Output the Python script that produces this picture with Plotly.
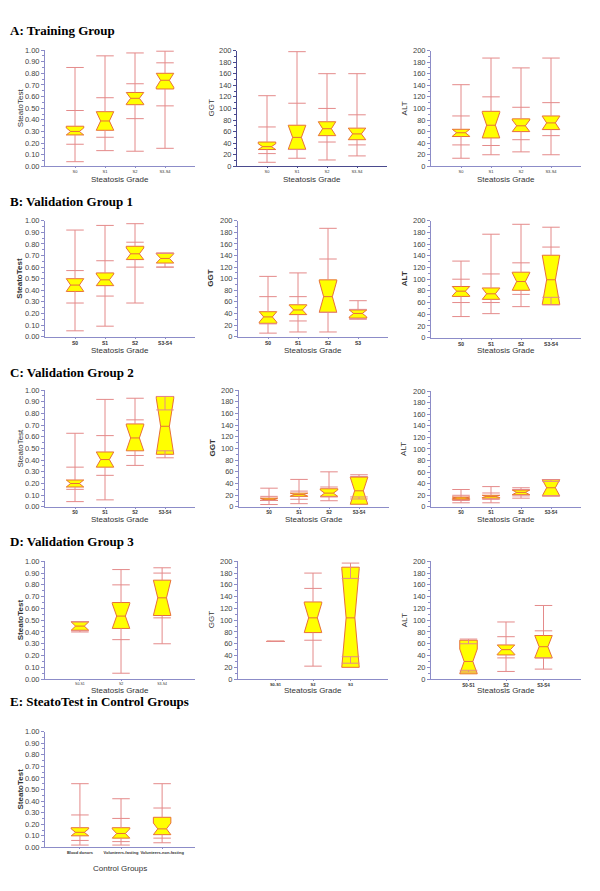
import plotly.graph_objects as go

# ---------------- categories ----------------
CAT_GRADES = ["S0", "S1", "S2", "S3-S4"]
CAT_B2 = ["S0", "S1", "S2", "S3"]
CAT_D13 = ["S0-S1", "S2", "S3-S4"]
CAT_D2 = ["S0-S1", "S2", "S3"]
CAT_E = ["Blood donors", "Volunteers-fasting", "Volunteers-non-fasting"]

# ---------------- A: Training group ----------------
A1_MIN = [0.04, 0.135, 0.13, 0.155]
A1_P10 = [0.19, 0.25, 0.41, 0.52]
A1_Q1 = [0.27, 0.31, 0.53, 0.665]
A1_MED = [0.30, 0.39, 0.585, 0.74]
A1_Q3 = [0.345, 0.47, 0.635, 0.80]
A1_P90 = [0.48, 0.59, 0.71, 0.89]
A1_MAX = [0.85, 0.95, 0.975, 0.99]

A2_MIN = [7, 14, 11, 18]
A2_P10 = [22, 29, 42, 37]
A2_Q1 = [29, 29.5, 53, 46]
A2_MED = [34, 50, 65, 56]
A2_Q3 = [42, 71, 77, 66]
A2_P90 = [68, 109, 100, 89]
A2_MAX = [122, 198, 160, 160]

A3_MIN = [14, 20, 25, 20]
A3_P10 = [37, 36, 46, 53]
A3_Q1 = [51.5, 49, 60, 63.5]
A3_MED = [58, 71, 70, 75]
A3_Q3 = [64, 95, 82, 87]
A3_P90 = [87, 120, 102, 110]
A3_MAX = [141, 187, 170, 187]

# ---------------- B: Validation group 1 ----------------
B1_MIN = [0.05, 0.09, 0.29, 0.60]
B1_P10 = [0.29, 0.35, 0.60, 0.60]
B1_Q1 = [0.39, 0.44, 0.665, 0.635]
B1_MED = [0.445, 0.49, 0.715, 0.675]
B1_Q3 = [0.50, 0.55, 0.78, 0.72]
B1_P90 = [0.57, 0.655, 0.815, 0.72]
B1_MAX = [0.92, 0.96, 0.975, 0.72]

B2_MIN = [6, 8, 8, 30]
B2_P10 = [22, 27, 42, 31]
B2_Q1 = [23, 38, 42, 32]
B2_MED = [34, 46, 69, 40]
B2_Q3 = [43, 55, 98, 46]
B2_P90 = [69, 69, 134, 47]
B2_MAX = [104, 110, 187, 62]

B3_MIN = [36, 41, 53, 56]
B3_P10 = [60, 60, 74, 69]
B3_Q1 = [70.5, 65.5, 81, 56.5]
B3_MED = [79.5, 75, 96, 99]
B3_Q3 = [87.5, 85, 112, 141]
B3_P90 = [100, 109, 128, 155]
B3_MAX = [131, 177, 194, 189]

# ---------------- C: Validation group 2 ----------------
C1_MIN = [0.045, 0.06, 0.355, 0.42]
C1_P10 = [0.15, 0.27, 0.44, 0.48]
C1_Q1 = [0.17, 0.34, 0.48, 0.45]
C1_MED = [0.20, 0.405, 0.59, 0.69]
C1_Q3 = [0.23, 0.47, 0.71, 0.945]
C1_P90 = [0.34, 0.61, 0.745, 0.83]
C1_MAX = [0.63, 0.92, 0.93, 0.945]

C2_MIN = [4, 5.5, 10.5, 13.5]
C2_P10 = [11, 13, 17, 17]
C2_Q1 = [11, 18, 18, 4.5]
C2_MED = [13, 21, 23.5, 27.5]
C2_Q3 = [15, 23.5, 31, 51]
C2_P90 = [18, 27, 34, 52]
C2_MAX = [32, 47, 60, 55]

C3_MIN = [7, 7, 15, 19]
C3_P10 = [11, 13, 19, 19]
C3_Q1 = [13, 15, 21, 19]
C3_MED = [15.5, 18, 25, 33]
C3_Q3 = [17, 20, 29, 47]
C3_P90 = [20, 24, 30, 44]
C3_MAX = [30, 35, 33, 47]

# ---------------- D: Validation group 3 ----------------
D1_MIN = [0.40, 0.05, 0.30]
D1_P10 = [0.41, 0.335, 0.52]
D1_Q1 = [0.415, 0.43, 0.54]
D1_MED = [0.45, 0.535, 0.69]
D1_Q3 = [0.487, 0.65, 0.84]
D1_P90 = [0.487, 0.80, 0.90]
D1_MAX = [0.487, 0.93, 0.945]

D2_MIN = [64, 22, 27]
D2_P10 = [64, 66, 38]
D2_Q1 = [64, 79, 20]
D2_MED = [64, 104, 104]
D2_Q3 = [64, 131, 190]
D2_P90 = [64, 154, 171]
D2_MAX = [64, 180, 197]

D3_MIN = [12, 13, 17]
D3_P10 = [15, 36, 36]
D3_Q1 = [9, 41, 36]
D3_MED = [30, 50, 55]
D3_Q3 = [66, 58, 74]
D3_P90 = [60, 72, 82]
D3_MAX = [68, 97, 125]

# ---------------- E: control groups ----------------
E_MIN = [0.02, 0.02, 0.04]
E_P10 = [0.06, 0.05, 0.08]
E_Q1 = [0.10, 0.08, 0.11]
E_MED = [0.13, 0.12, 0.16]
E_Q3 = [0.17, 0.17, 0.26]
E_P90 = [0.28, 0.25, 0.34]
E_MAX = [0.55, 0.42, 0.55]

# ---------------- layout helpers ----------------
W, H = 600, 891
FILL = "#FFFF00"
BOX_LINE = "#E8703A"
WHISK = "#E48A8A"
AXIS = "#8C8CC8"
AXIS_DARK = "#4A4A8E"
SANS = "Liberation Sans"
SERIF = "Liberation Serif"


def px(x):
    return x / W


def py(y):
    return 1 - y / H


# (stats, cats, x px domain, y px domain(top,bottom), yrange, dtick, ytitle, xrange, catfont, catbold, ytbold, xtitle, xtitle_y, axis colour)
panels = [
    ((A1_MIN, A1_P10, A1_Q1, A1_MED, A1_Q3, A1_P90, A1_MAX), CAT_GRADES, (45, 195), (46.5, 164), 1.0, 0.1, "SteatoTest", (-1, 4), 4, False, False, "Steatosis Grade", 177, AXIS),
    ((A2_MIN, A2_P10, A2_Q1, A2_MED, A2_Q3, A2_P90, A2_MAX), CAT_GRADES, (237, 387), (47, 164), 200, 20, "GGT", (-1, 4), 4, False, False, "Steatosis Grade", 177, AXIS_DARK),
    ((A3_MIN, A3_P10, A3_Q1, A3_MED, A3_Q3, A3_P90, A3_MAX), CAT_GRADES, (431, 581), (47, 164), 200, 20, "ALT", (-1, 4), 4, False, False, "Steatosis Grade", 177, AXIS),
    ((B1_MIN, B1_P10, B1_Q1, B1_MED, B1_Q3, B1_P90, B1_MAX), CAT_GRADES, (45, 195), (219, 336), 1.0, 0.1, "SteatoTest", (-1, 4), 5, True, True, "Steatosis Grade", 350, AXIS),
    ((B2_MIN, B2_P10, B2_Q1, B2_MED, B2_Q3, B2_P90, B2_MAX), CAT_B2, (238, 388), (219, 336), 200, 20, "GGT", (-1, 4), 5, True, True, "Steatosis Grade", 350, AXIS),
    ((B3_MIN, B3_P10, B3_Q1, B3_MED, B3_Q3, B3_P90, B3_MAX), CAT_GRADES, (431, 581), (219, 337), 200, 20, "ALT", (-1, 4), 5, True, True, "Steatosis Grade", 350, AXIS),
    ((C1_MIN, C1_P10, C1_Q1, C1_MED, C1_Q3, C1_P90, C1_MAX), CAT_GRADES, (45, 195), (390, 508), 1.0, 0.1, "SteatoTest", (-1, 4), 4.5, True, False, "Steatosis Grade", 521, AXIS),
    ((C2_MIN, C2_P10, C2_Q1, C2_MED, C2_Q3, C2_P90, C2_MAX), CAT_GRADES, (239, 389), (390, 508), 200, 20, "GGT", (-1, 4), 4.5, True, True, "Steatosis Grade", 521, AXIS),
    ((C3_MIN, C3_P10, C3_Q1, C3_MED, C3_Q3, C3_P90, C3_MAX), CAT_GRADES, (431, 581), (391, 508), 200, 20, "ALT", (-1, 4), 4.5, True, False, "Steatosis Grade", 521, AXIS),
    ((D1_MIN, D1_P10, D1_Q1, D1_MED, D1_Q3, D1_P90, D1_MAX), CAT_D13, (45, 195), (563, 682), 1.0, 0.1, "SteatoTest", (-0.85, 2.8), 3.5, False, True, "Steatosis Grade", 694, AXIS),
    ((D2_MIN, D2_P10, D2_Q1, D2_MED, D2_Q3, D2_P90, D2_MAX), CAT_D2, (238, 388), (563, 682), 200, 20, "GGT", (-1, 3), 4, True, False, "Steatosis Grade", 694, AXIS),
    ((D3_MIN, D3_P10, D3_Q1, D3_MED, D3_Q3, D3_P90, D3_MAX), CAT_D13, (431, 581), (563, 682), 200, 20, "ALT", (-1, 3), 4.5, True, False, "Steatosis Grade", 694, AXIS),
    ((E_MIN, E_P10, E_Q1, E_MED, E_Q3, E_P90, E_MAX), CAT_E, (45, 195), (735, 852), 1.0, 0.1, "SteatoTest", (-0.85, 2.8), 4, True, True, "Control Groups", 873, AXIS),
]

fig = go.Figure()
annotations = []
layout_axes = {}
BOX_PX = 17.5

for i, (stats, cats, xd, yd, ymax, dtick, ytitle, xr, catsize, catbold, ytbold, xtitle, xtitle_y, acol) in enumerate(panels, start=1):
    mn, p10, q1, med, q3, p90, mx = stats
    pos = list(range(len(cats)))
    xa = "x" if i == 1 else f"x{i}"
    ya = "y" if i == 1 else f"y{i}"
    units_per_px = (xr[1] - xr[0]) / (xd[1] - xd[0])
    bw = BOX_PX * units_per_px
    cw = bw / 2
    notch = [max(min(m - a, b - m), 0) for a, m, b in zip(q1, med, q3)]

    fig.add_trace(go.Box(
        x=pos, q1=q1, median=med, q3=q3, lowerfence=q1, upperfence=q3,
        notched=True, notchspan=notch, notchwidth=0.25, width=bw,
        fillcolor=FILL, line=dict(color=BOX_LINE, width=1), whiskerwidth=0,
        boxpoints=False, xaxis=xa, yaxis=ya, hoverinfo="skip",
    ))

    # whiskers
    wx, wy = [], []
    for p, a, b, c, d, e, f in zip(pos, mn, p10, q1, q3, p90, mx):
        wx += [p, p, None, p, p, None]
        wy += [a, max(b, c), None, min(d, e), f, None]
    fig.add_trace(go.Scatter(x=wx, y=wy, mode="lines", line=dict(color=WHISK, width=1),
                             xaxis=xa, yaxis=ya, hoverinfo="skip"))
    # caps
    cx, cy = [], []
    for p, vals in zip(pos, zip(mn, p10, p90, mx)):
        for v in vals:
            cx += [p - cw, p + cw, None]
            cy += [v, v, None]
    fig.add_trace(go.Scatter(x=cx, y=cy, mode="lines", line=dict(color=WHISK, width=1),
                             xaxis=xa, yaxis=ya, hoverinfo="skip"))

    xkey = "xaxis" if i == 1 else f"xaxis{i}"
    ykey = "yaxis" if i == 1 else f"yaxis{i}"
    cat_text = [f"<b>{c}</b>" if catbold else c for c in cats]
    layout_axes[xkey] = dict(
        domain=[px(xd[0]), px(xd[1])], range=list(xr), anchor=ya,
        tickmode="array", tickvals=pos, ticktext=cat_text, tickangle=0,
        tickfont=dict(family=SANS, size=catsize, color="#333"),
        showline=True, linecolor=acol, linewidth=1, ticks="outside", ticklen=1,
        tickcolor=acol, showgrid=False, zeroline=False, fixedrange=True,
    )
    layout_axes[ykey] = dict(
        domain=[py(yd[1]), py(yd[0])], range=[0, ymax], anchor=xa,
        dtick=dtick, tick0=0, tickformat=".2f" if ymax == 1.0 else "d",
        tickfont=dict(family=SANS, size=7.5, color="#444"),
        showline=True, linecolor=acol, linewidth=1, ticks="outside", ticklen=3,
        tickcolor=acol, showgrid=False, zeroline=False, fixedrange=True,
        minor=dict(ticks="outside", ticklen=2, tickcolor=acol, dtick=dtick / 2),
    )
    # axis titles
    annotations.append(dict(
        text=xtitle, x=px((xd[0] + xd[1]) / 2), y=py(xtitle_y), xref="paper", yref="paper",
        showarrow=False, xanchor="center", yanchor="middle",
        font=dict(family=SANS, size=8, color="#333")))
    ytx = {45: 20, 237: 211, 238: 211, 239: 212, 431: 404}[xd[0]]
    annotations.append(dict(
        text=f"<b>{ytitle}</b>" if ytbold else ytitle, x=px(ytx), y=py((yd[0] + yd[1]) / 2),
        xref="paper", yref="paper", textangle=-90, showarrow=False,
        xanchor="center", yanchor="middle", font=dict(family=SANS, size=8, color="#333")))

TITLES = [
    ("A: Training Group", 27),
    ("B: Validation Group 1", 200),
    ("C: Validation Group 2", 372),
    ("D: Validation Group 3", 543),
    ("E: SteatoTest in Control Groups", 705),
]
for t, yy in TITLES:
    annotations.append(dict(
        text=f"<b>{t}</b>", x=px(8), y=py(yy), xref="paper", yref="paper",
        showarrow=False, xanchor="left", yanchor="middle",
        font=dict(family=SERIF, size=13, color="#000")))

fig.update_layout(
    width=W, height=H, margin=dict(l=0, r=0, t=0, b=0),
    paper_bgcolor="white", plot_bgcolor="white", showlegend=False,
    annotations=annotations, **layout_axes,
)

fig.write_html("out.html", config={"displayModeBar": False},
               post_script="document.body.style.margin='0px';document.body.style.overflow='hidden';")
